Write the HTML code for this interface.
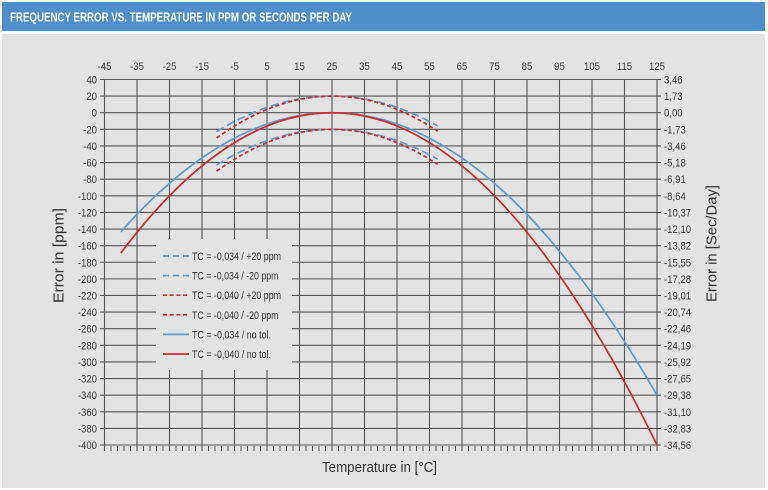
<!DOCTYPE html>
<html>
<head>
<meta charset="utf-8">
<style>
html,body{margin:0;padding:0;background:#fff;}
svg{display:block;}
text{font-family:"Liberation Sans Narrow","Liberation Sans",sans-serif;}
</style>
</head>
<body>
<svg width="768" height="490" viewBox="0 0 768 490" xmlns="http://www.w3.org/2000/svg">
<rect x="0" y="0" width="768" height="490" fill="#ffffff"/>
<rect x="2" y="2" width="763" height="29" fill="#4e8ecb"/>
<text x="10" y="21.5" font-size="12.5" font-weight="bold" fill="#ffffff" textLength="342" lengthAdjust="spacingAndGlyphs">FREQUENCY ERROR VS. TEMPERATURE IN PPM OR SECONDS PER DAY</text>
<rect x="2" y="34" width="763" height="454" fill="#e3e3e3"/>

<g stroke="#555" stroke-width="1.1" fill="none">
<line x1="100" x2="661" y1="79.5" y2="79.5"/>
<line x1="100" x2="661" y1="96.11" y2="96.11"/>
<line x1="100" x2="661" y1="112.73" y2="112.73"/>
<line x1="100" x2="661" y1="129.34" y2="129.34"/>
<line x1="100" x2="661" y1="145.96" y2="145.96"/>
<line x1="100" x2="661" y1="162.57" y2="162.57"/>
<line x1="100" x2="661" y1="179.18" y2="179.18"/>
<line x1="100" x2="661" y1="195.8" y2="195.8"/>
<line x1="100" x2="661" y1="212.41" y2="212.41"/>
<line x1="100" x2="661" y1="229.03" y2="229.03"/>
<line x1="100" x2="661" y1="245.64" y2="245.64"/>
<line x1="100" x2="661" y1="262.25" y2="262.25"/>
<line x1="100" x2="661" y1="278.87" y2="278.87"/>
<line x1="100" x2="661" y1="295.48" y2="295.48"/>
<line x1="100" x2="661" y1="312.1" y2="312.1"/>
<line x1="100" x2="661" y1="328.71" y2="328.71"/>
<line x1="100" x2="661" y1="345.32" y2="345.32"/>
<line x1="100" x2="661" y1="361.94" y2="361.94"/>
<line x1="100" x2="661" y1="378.55" y2="378.55"/>
<line x1="100" x2="661" y1="395.17" y2="395.17"/>
<line x1="100" x2="661" y1="411.78" y2="411.78"/>
<line x1="100" x2="661" y1="428.39" y2="428.39"/>
<line x1="100" x2="661" y1="445.01" y2="445.01"/>
</g>
<g stroke="#555" stroke-width="1.1" fill="none">
<line y1="79.5" y2="451" x1="104.5" x2="104.5"/>
<line y1="79.5" y2="451" x1="137" x2="137"/>
<line y1="79.5" y2="451" x1="169.5" x2="169.5"/>
<line y1="79.5" y2="451" x1="202" x2="202"/>
<line y1="79.5" y2="451" x1="234.5" x2="234.5"/>
<line y1="79.5" y2="451" x1="267" x2="267"/>
<line y1="79.5" y2="451" x1="299.5" x2="299.5"/>
<line y1="79.5" y2="451" x1="332" x2="332"/>
<line y1="79.5" y2="451" x1="364.5" x2="364.5"/>
<line y1="79.5" y2="451" x1="397" x2="397"/>
<line y1="79.5" y2="451" x1="429.5" x2="429.5"/>
<line y1="79.5" y2="451" x1="462" x2="462"/>
<line y1="79.5" y2="451" x1="494.5" x2="494.5"/>
<line y1="79.5" y2="451" x1="527" x2="527"/>
<line y1="79.5" y2="451" x1="559.5" x2="559.5"/>
<line y1="79.5" y2="451" x1="592" x2="592"/>
<line y1="79.5" y2="451" x1="624.5" x2="624.5"/>
<line y1="79.5" y2="451" x1="657" x2="657"/>
</g>
<line x1="104" y1="448.5" x2="658" y2="448.5" stroke="#555" stroke-width="5" stroke-dasharray="1 5.5"/>

<rect x="156" y="239" width="136" height="131" fill="#e3e3e3"/>

<g fill="none" stroke-width="1.7">
<path d="M216.63,131.71 Q327.13,63.53 437.63,125.94" stroke="#5b9bd5" stroke-dasharray="8 4"/>
<path d="M216.63,164.94 Q327.13,96.75 437.63,159.17" stroke="#5b9bd5" stroke-dasharray="8 4"/>
<path d="M216.63,137.99 Q327.13,57.78 437.63,131.21" stroke="#d42a2a" stroke-dasharray="4 2.7"/>
<path d="M216.63,171.22 Q327.13,91.01 437.63,164.44" stroke="#d42a2a" stroke-dasharray="4 2.7"/>
<path d="M120.75,232.06 Q388.88,-70.86 657,395.17" stroke="#5b9bd5"/>
<path d="M120.75,253.12 Q388.88,-103.25 657,445.01" stroke="#d42a2a"/>
</g>

<g stroke-width="1.7" fill="none">
<line x1="163" x2="189" y1="256" y2="256" stroke="#5b9bd5" stroke-dasharray="6 4"/>
<line x1="163" x2="189" y1="275.6" y2="275.6" stroke="#5b9bd5" stroke-dasharray="6 4"/>
<line x1="163" x2="189" y1="295.2" y2="295.2" stroke="#d42a2a" stroke-dasharray="4 2.7"/>
<line x1="163" x2="189" y1="314.8" y2="314.8" stroke="#d42a2a" stroke-dasharray="4 2.7"/>
<line x1="163" x2="189" y1="334.4" y2="334.4" stroke="#5b9bd5"/>
<line x1="163" x2="189" y1="354" y2="354" stroke="#d42a2a"/>
</g>
<g font-size="11" fill="#333">
<text x="192" y="260" textLength="89" lengthAdjust="spacingAndGlyphs">TC = -0,034 / +20 ppm</text>
<text x="192" y="279.6" textLength="86.5" lengthAdjust="spacingAndGlyphs">TC = -0,034 / -20 ppm</text>
<text x="192" y="299.2" textLength="89" lengthAdjust="spacingAndGlyphs">TC = -0,040 / +20 ppm</text>
<text x="192" y="318.8" textLength="86.5" lengthAdjust="spacingAndGlyphs">TC = -0,040 / -20 ppm</text>
<text x="192" y="338.4" textLength="79" lengthAdjust="spacingAndGlyphs">TC = -0,034 / no tol.</text>
<text x="192" y="358" textLength="79" lengthAdjust="spacingAndGlyphs">TC = -0,040 / no tol.</text>
</g>

<g transform="scale(0.87,1)" font-size="11" fill="#3a3a3a" text-anchor="middle">
<text x="120.11" y="70">-45</text>
<text x="157.47" y="70">-35</text>
<text x="194.83" y="70">-25</text>
<text x="232.18" y="70">-15</text>
<text x="269.54" y="70">-5</text>
<text x="306.9" y="70">5</text>
<text x="344.25" y="70">15</text>
<text x="381.61" y="70">25</text>
<text x="418.97" y="70">35</text>
<text x="456.32" y="70">45</text>
<text x="493.68" y="70">55</text>
<text x="531.03" y="70">65</text>
<text x="568.39" y="70">75</text>
<text x="605.75" y="70">85</text>
<text x="643.1" y="70">95</text>
<text x="680.46" y="70">105</text>
<text x="717.82" y="70">115</text>
<text x="755.17" y="70">125</text>
</g>

<g transform="scale(0.87,1)" font-size="11" fill="#3a3a3a" text-anchor="end">
<text x="111.49" y="83.5">40</text>
<text x="111.49" y="100.1">20</text>
<text x="111.49" y="116.7">0</text>
<text x="111.49" y="133.3">-20</text>
<text x="111.49" y="150">-40</text>
<text x="111.49" y="166.6">-60</text>
<text x="111.49" y="183.2">-80</text>
<text x="111.49" y="199.8">-100</text>
<text x="111.49" y="216.4">-120</text>
<text x="111.49" y="233">-140</text>
<text x="111.49" y="249.6">-160</text>
<text x="111.49" y="266.3">-180</text>
<text x="111.49" y="282.9">-200</text>
<text x="111.49" y="299.5">-220</text>
<text x="111.49" y="316.1">-240</text>
<text x="111.49" y="332.7">-260</text>
<text x="111.49" y="349.3">-280</text>
<text x="111.49" y="365.9">-300</text>
<text x="111.49" y="382.6">-320</text>
<text x="111.49" y="399.2">-340</text>
<text x="111.49" y="415.8">-360</text>
<text x="111.49" y="432.4">-380</text>
<text x="111.49" y="449">-400</text>
</g>

<g transform="scale(0.87,1)" font-size="11" fill="#3a3a3a" text-anchor="start">
<text x="763.22" y="83.5">3,46</text>
<text x="763.22" y="100.1">1,73</text>
<text x="763.22" y="116.7">0,00</text>
<text x="763.22" y="133.3">-1,73</text>
<text x="763.22" y="150">-3,46</text>
<text x="763.22" y="166.6">-5,18</text>
<text x="763.22" y="183.2">-6,91</text>
<text x="763.22" y="199.8">-8,64</text>
<text x="763.22" y="216.4">-10,37</text>
<text x="763.22" y="233">-12,10</text>
<text x="763.22" y="249.6">-13,82</text>
<text x="763.22" y="266.3">-15,55</text>
<text x="763.22" y="282.9">-17,28</text>
<text x="763.22" y="299.5">-19,01</text>
<text x="763.22" y="316.1">-20,74</text>
<text x="763.22" y="332.7">-22,46</text>
<text x="763.22" y="349.3">-24,19</text>
<text x="763.22" y="365.9">-25,92</text>
<text x="763.22" y="382.6">-27,65</text>
<text x="763.22" y="399.2">-29,38</text>
<text x="763.22" y="415.8">-31,10</text>
<text x="763.22" y="432.4">-32,83</text>
<text x="763.22" y="449">-34,56</text>
</g>

<g font-size="14.5" fill="#333">
<text transform="translate(63.5,255.5) rotate(-90)" text-anchor="middle" textLength="95" lengthAdjust="spacingAndGlyphs">Error in [ppm]</text>
<text transform="translate(716.5,243.5) rotate(-90)" text-anchor="middle" textLength="117" lengthAdjust="spacingAndGlyphs">Error in [Sec/Day]</text>
<text x="379.5" y="472" text-anchor="middle" textLength="115" lengthAdjust="spacingAndGlyphs">Temperature in [°C]</text>
</g>
</svg>
</body>
</html>
